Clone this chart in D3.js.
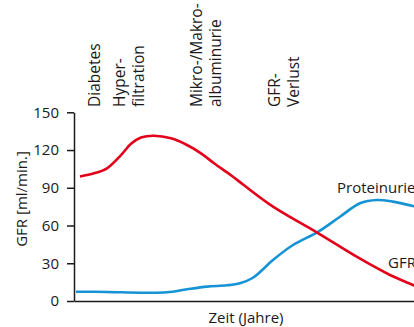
<!DOCTYPE html>
<html><head><meta charset="utf-8">
<script src="https://cdn.jsdelivr.net/npm/d3@7"></script>
<style>
html,body{margin:0;padding:0;background:#fff;}
svg{display:block;font-family:"Open Sans",sans-serif;}
</style></head>
<body><div id="chart"></div>
<script>
// Data (time in arbitrary years-units, GFR in ml/min)
const gfrTime   = [0.6, 2, 3.3, 4.7, 5.7, 6.7, 8, 9.7, 11.3, 12.7, 14, 15.7, 17, 19.9, 24.4, 28.3, 31.6, 33.9, 35];
const gfrValue  = [99, 101.5, 105.5, 116, 125, 130, 131.4, 129.3, 124, 117.4, 109.5, 100, 92, 75, 54, 35, 20.7, 12.7, 8.5];
const protTime  = [0.2, 3.3, 6.7, 9.3, 11.3, 13.3, 15.3, 16.6, 17.9, 19.9, 21.9, 24.4, 26.6, 28.6, 30.3, 31.9, 33.9, 35];
const protValue = [7.4, 7.2, 6.6, 6.9, 9.3, 11.4, 12.5, 14.2, 18.5, 32.6, 44.5, 55, 67, 77.7, 80.3, 79, 75.5, 73];
const yTicks = [0, 30, 60, 90, 120, 150];
const phaseLabels = [["Diabetes"], ["Hyper-", "filtration"], ["Mikro-/Makro-", "albuminurie"], ["GFR-", "Verlust"]];
const phaseTime = [2.6, 5.1, 12.8, 20.6];
const seriesLabels = ["Proteinurie", "GFR"];
const seriesLabelTime = [26.3, 31.4];
const seriesLabelValue = [85.8, 26.2];

const W = 414, H = 327;
const svg = d3.select("#chart").append("svg").attr("width", W).attr("height", H);
const x = d3.scaleLinear().domain([0, 34]).range([74, 414]);
const y = d3.scaleLinear().domain([0, 150]).range([301, 112.3]);
const red = "#e2001a", blue = "#1593d4", ink = "#1a1a1a";

// y axis
const yAxis = svg.append("g").attr("transform", "translate(74,0)")
  .call(d3.axisLeft(y).tickValues(yTicks).tickSize(7).tickPadding(8).tickSizeOuter(0));
yAxis.select(".domain").attr("stroke", ink).attr("stroke-width", 1.5);
yAxis.selectAll(".tick line").attr("stroke", ink).attr("stroke-width", 1.5);
yAxis.selectAll(".tick text").attr("font-family", "Open Sans").attr("font-size", 15).attr("fill", ink);

// x axis (no ticks)
const xAxis = svg.append("g").attr("transform", "translate(0,301)")
  .call(d3.axisBottom(x).tickValues([]).tickSizeOuter(0));
xAxis.select(".domain").attr("stroke", ink).attr("stroke-width", 1.5);

// axis titles
svg.append("text").attr("transform", "translate(27,199) rotate(-90)")
  .attr("text-anchor", "middle").attr("font-size", 15).attr("fill", ink).text("GFR [ml/min.]");
svg.append("text").attr("x", 246).attr("y", 323)
  .attr("text-anchor", "middle").attr("font-size", 15).attr("fill", ink).text("Zeit (Jahre)");

// phase labels
phaseLabels.forEach((lines, i) => {
  lines.forEach((t, j) => {
    const bx = x(phaseTime[i]) + j * 19;
    svg.append("text").attr("transform", `translate(${bx},107) rotate(-90)`)
      .attr("text-anchor", "start").attr("font-size", 15.5).attr("fill", ink).text(t);
  });
});

// lines
const line = d3.line().curve(d3.curveCatmullRom.alpha(0.5));
svg.append("path")
  .attr("d", line(protTime.map((t, i) => [x(t), y(protValue[i])])))
  .attr("fill", "none").attr("stroke", blue).attr("stroke-width", 2.6);
svg.append("path")
  .attr("d", line(gfrTime.map((t, i) => [x(t), y(gfrValue[i])])))
  .attr("fill", "none").attr("stroke", red).attr("stroke-width", 2.6);

// series labels
seriesLabels.forEach((t, i) => {
  svg.append("text").attr("x", x(seriesLabelTime[i])).attr("y", y(seriesLabelValue[i]))
    .attr("font-size", 15).attr("fill", ink).text(t);
});
</script></body></html>
